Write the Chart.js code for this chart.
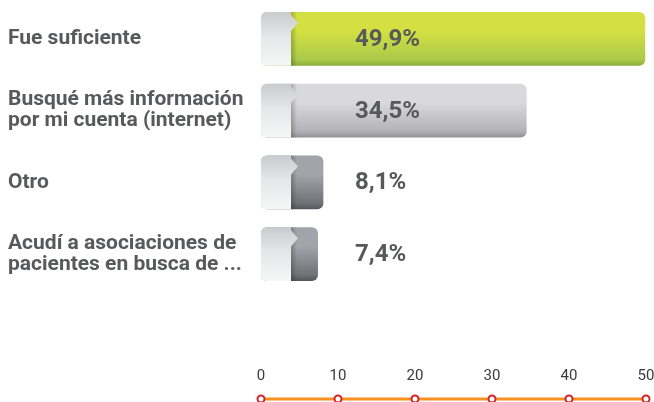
<!DOCTYPE html>
<html>
<head>
<meta charset="utf-8">
<script src="https://cdn.jsdelivr.net/npm/chart.js@4.4.0/dist/chart.umd.min.js"></script>
<style>
  html, body { margin: 0; padding: 0; background: #fff; }
  .chart-box { width: 654px; height: 402px; }
</style>
</head>
<body>
<div class="chart-box"><canvas id="bar_chart" width="654" height="402"></canvas></div>
<script>
const categories = [
  "Fue suficiente",
  ["Busqué más información", "por mi cuenta (internet)"],
  "Otro",
  ["Acudí a asociaciones de", "pacientes en busca de ..."],
];
const values = [49.9, 34.5, 8.1, 7.4];
const valueLabels = ["49,9%", "34,5%", "8,1%", "7,4%"];
const axisMin = 0;
const axisMax = 50;
const axisStep = 10;

// top, lower, bottom edge
const barShades = [
  ["#d4e042", "#abc94a", "#8aae3c"],
  ["#d9d8db", "#b3b3b7", "#8f8f94"],
  ["#a2a4aa", "#717278", "#55565b"],
  ["#a2a4aa", "#717278", "#55565b"],
];
const textGray = "#58595b";
const fontFamily = "Roboto, 'Open Sans', sans-serif";

const barFill = (c) => {
  const chart = c.chart;
  const shade = barShades[c.dataIndex];
  const yScale = chart.scales && chart.scales.y;
  if (!yScale || !chart.chartArea) return shade[0];
  const y = yScale.getPixelForValue(c.dataIndex);
  const g = chart.ctx.createLinearGradient(0, y - 27, 0, y + 27);
  g.addColorStop(0, shade[0]);
  g.addColorStop(0.35, shade[0]);
  g.addColorStop(0.88, shade[1]);
  g.addColorStop(1, shade[2]);
  return g;
};

// light cap on the left of each bar + value text
const barDecor = {
  id: "barDecor",
  afterDatasetsDraw(chart) {
    const ctx = chart.ctx;
    const meta = chart.getDatasetMeta(0);
    meta.data.forEach((bar, i) => {
      const left = bar.base;
      const top = bar.y - bar.height / 2;
      const bottom = bar.y + bar.height / 2;
      const capR = left + 30;
      const r = 6;
      ctx.save();
      // shadow next to the cap
      const sh = ctx.createLinearGradient(capR, 0, capR + 6, 0);
      sh.addColorStop(0, "rgba(0,0,0,0.22)");
      sh.addColorStop(1, "rgba(0,0,0,0)");
      ctx.fillStyle = sh;
      ctx.fillRect(capR, top, 6, bottom - top);

      ctx.beginPath();
      ctx.moveTo(left + r, top);
      ctx.lineTo(capR, top);
      ctx.lineTo(capR, top + 3);
      ctx.lineTo(capR + 7, top + 11);
      ctx.lineTo(capR, top + 19);
      ctx.lineTo(capR, bottom);
      ctx.lineTo(left + r, bottom);
      ctx.quadraticCurveTo(left, bottom, left, bottom - r);
      ctx.lineTo(left, top + r);
      ctx.quadraticCurveTo(left, top, left + r, top);
      ctx.closePath();
      const g = ctx.createLinearGradient(0, top, 0, bottom);
      g.addColorStop(0, "#c9cbce");
      g.addColorStop(0.45, "#e4e6e7");
      g.addColorStop(1, "#f6f7f7");
      ctx.fillStyle = g;
      ctx.fill();
      ctx.restore();

      ctx.save();
      ctx.fillStyle = textGray;
      ctx.font = "bold 24px " + fontFamily;
      ctx.textAlign = "left";
      ctx.textBaseline = "middle";
      ctx.fillText(valueLabels[i], chart.chartArea.left + 94, bar.y + 1);
      ctx.restore();
    });
  },
};

// orange axis line with ring markers under the tick labels
const axisLine = {
  id: "axisLine",
  afterDraw(chart) {
    const ctx = chart.ctx;
    const x = chart.scales.x;
    const y = 399;
    ctx.save();
    ctx.strokeStyle = "#f7901e";
    ctx.lineWidth = 3;
    ctx.beginPath();
    ctx.moveTo(x.left, y);
    ctx.lineTo(x.right, y);
    ctx.stroke();
    x.ticks.forEach((t, i) => {
      const px = x.getPixelForTick(i);
      ctx.beginPath();
      ctx.arc(px, y, 3.5, 0, Math.PI * 2);
      ctx.fillStyle = "#fff";
      ctx.fill();
      ctx.strokeStyle = "#d2232a";
      ctx.lineWidth = 2;
      ctx.stroke();
    });
    ctx.restore();
  },
};

const ctx = document.getElementById("bar_chart").getContext("2d");
new Chart(ctx, {
  type: "bar",
  data: {
    labels: categories,
    datasets: [
      {
        data: values,
        backgroundColor: barFill,
        borderRadius: 6,
        borderSkipped: false,
        categoryPercentage: 0.75,
        barPercentage: 1,
      },
    ],
  },
  options: {
    indexAxis: "y",
    responsive: false,
    animation: false,
    layout: { padding: { left: 8, right: 5, top: 3, bottom: 17 } },
    plugins: { legend: { display: false }, tooltip: { enabled: false } },
    scales: {
      x: {
        min: axisMin,
        max: axisMax,
        grid: { display: false, drawTicks: false },
        border: { display: false },
        ticks: {
          stepSize: axisStep,
          color: "#3a3a3a",
          font: { family: fontFamily, size: 15 },
          padding: 77,
        },
        afterFit(s) {
          s.height = 95;
          s.paddingLeft = 0;
          s.paddingRight = 8;
        },
      },
      y: {
        grid: { display: false, drawTicks: false },
        border: { display: false },
        ticks: {
          crossAlign: "far",
          color: textGray,
          font: { family: fontFamily, size: 21, weight: "bold", lineHeight: 1.0 },
        },
        afterFit(s) {
          s.width = 253;
          s.paddingTop = 0;
          s.paddingBottom = 0;
        },
      },
    },
  },
  plugins: [barDecor, axisLine],
});
</script>
</body>
</html>
